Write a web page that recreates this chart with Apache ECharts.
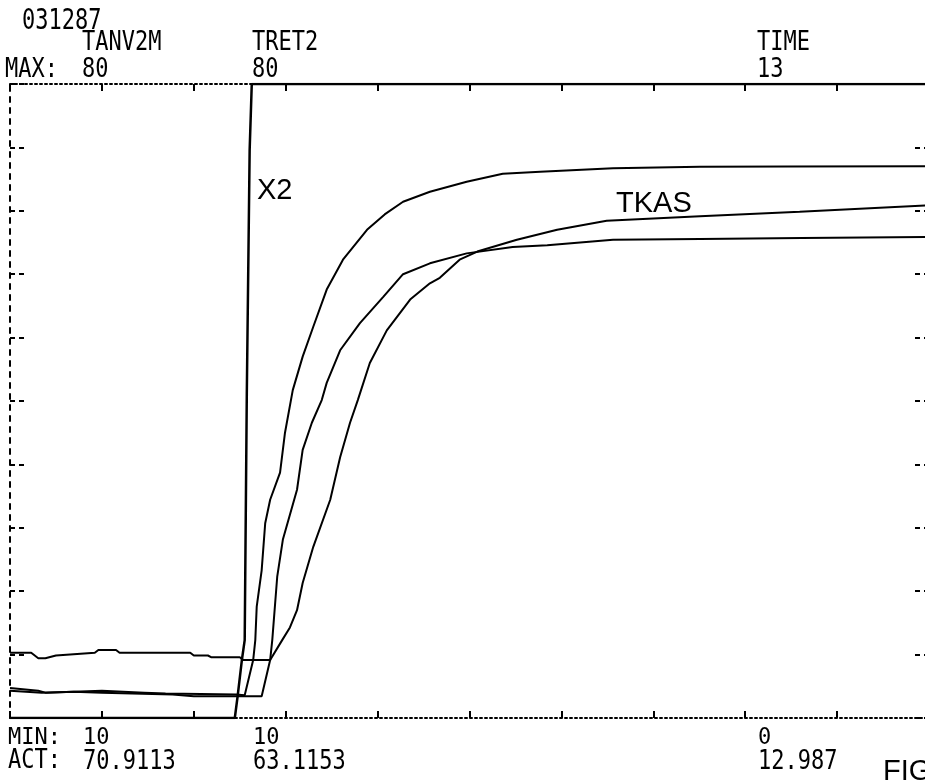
<!DOCTYPE html>
<html>
<head>
<meta charset="utf-8">
<script src="https://cdn.jsdelivr.net/npm/echarts@6/dist/echarts.min.js"></script>
<style>
  html, body { margin: 0; padding: 0; background: #fff; overflow: hidden; }
  #chart { width: 925px; height: 780px; }
</style>
</head>
<body>
<div id="chart"></div>
<script>
// Recorder channels, time in minutes, values in recorder units
const timeRange = [0, 13];
const valueRange = [10, 80];

const tanv2m = [
  [0, 13.3], [0.4, 13.0], [0.5, 12.8], [0.9, 12.9], [1.3, 13.0], [1.9, 12.8], [2.2, 12.7],
  [3.2, 12.6], [3.32, 12.5], [3.44, 16.4], [3.47, 18.6], [3.49, 22.3], [3.56, 26.3],
  [3.61, 31.5], [3.68, 34.1], [3.82, 37.1], [3.89, 41.5], [4.0, 46.2], [4.14, 49.9],
  [4.29, 53.2], [4.48, 57.3], [4.71, 60.6], [5.05, 63.9], [5.3, 65.6], [5.56, 67.0],
  [5.94, 68.1], [6.46, 69.2], [6.97, 70.1], [7.5, 70.3], [8.53, 70.7], [9.76, 70.85],
  [11.0, 70.9], [12.987, 70.9113]
];

const tret2 = [
  [0, 13.0], [0.45, 12.8], [0.9, 12.9], [1.3, 12.8], [2.3, 12.6], [2.6, 12.4], [3.56, 12.4],
  [3.68, 16.4], [3.71, 18.6], [3.78, 25.6], [3.86, 29.7], [4.06, 35.2], [4.14, 39.6],
  [4.27, 42.6], [4.41, 45.1], [4.48, 47.0], [4.67, 50.6], [4.95, 53.6], [5.28, 56.5],
  [5.56, 59.0], [5.94, 60.2], [6.46, 61.3], [7.11, 62.0], [7.6, 62.2], [8.53, 62.8],
  [9.76, 62.9], [11.2, 63.0], [12.987, 63.1153]
];

const tkas = [
  [0, 17.2], [0.3, 17.2], [0.4, 16.6], [0.5, 16.6], [0.65, 16.9], [1.2, 17.2], [1.25, 17.5],
  [1.5, 17.5], [1.55, 17.2], [2.55, 17.2], [2.6, 16.9], [2.8, 16.9], [2.85, 16.7],
  [3.25, 16.7], [3.3, 16.4], [3.68, 16.4], [3.85, 18.6], [3.96, 20.0], [4.06, 21.9],
  [4.14, 24.9], [4.29, 28.9], [4.53, 34.1], [4.67, 38.8], [4.81, 42.6], [4.92, 45.1],
  [5.09, 49.2], [5.33, 52.8], [5.66, 56.2], [5.94, 58.0], [6.08, 58.6], [6.36, 60.6],
  [6.61, 61.5], [7.17, 62.8], [7.74, 63.9], [8.44, 64.9], [9.76, 65.4], [11.17, 65.9],
  [12.987, 66.6]
];

const x2 = [
  [0, 10], [3.18, 10], [3.22, 12.4], [3.28, 16.4], [3.32, 18.6], [3.35, 46],
  [3.39, 72.7], [3.42, 80], [12.987, 80]
];

// Header / footer text of the recorder printout
const plotDate = '031287';
const columnNames = ['TANV2M', 'TRET2', 'TIME'];
const maxLabels = ['80', '80', '13'];
const minLabels = ['10', '10', '0'];
const actLabels = ['70.9113', '63.1153', '12.987'];
const rowTitles = ['MAX:', 'MIN:', 'ACT:'];
const curveNotes = ['X2', 'TKAS'];
const figNote = 'FIG';

const frameDivisions = 10;

const chart = echarts.init(document.getElementById('chart'), null, { renderer: 'canvas' });

// plot frame runs slightly past the right edge of the sheet
const PLOT = { left: 10, top: 84, width: 919, height: 634, outerBoundsMode: 'none', containLabel: false };
const INK = '#000';
const MONO = '"DejaVu Sans Mono", monospace';
const SANS = '"Liberation Sans", Arial, sans-serif';

function plotterText(str, x, capTop, sy) {
  return {
    type: 'text', x: x, y: capTop - 3, scaleY: sy || 1.18,
    style: { text: str, font: '22px ' + MONO, fill: INK, verticalAlign: 'top', align: 'left' }
  };
}
function noteText(str, x, capTop) {
  return {
    type: 'text', x: x, y: capTop - 6,
    style: { text: str, font: '29px ' + SANS, fill: INK, verticalAlign: 'top', align: 'left' }
  };
}

const colX = [82, 252, 757];
const graphics = [plotterText(plotDate, 22, 10, 1.3)];
columnNames.forEach((t, i) => graphics.push(plotterText(t, colX[i], 33)));
graphics.push(plotterText(rowTitles[0], 5, 60));
maxLabels.forEach((t, i) => graphics.push(plotterText(t, colX[i], 60)));
graphics.push(plotterText(rowTitles[1], 8, 729, 1.05));
minLabels.forEach((t, i) => graphics.push(plotterText(t, colX[i] + 1, 729, 1.05)));
graphics.push(plotterText(rowTitles[2], 8, 751));
actLabels.forEach((t, i) => graphics.push(plotterText(t, colX[i] + 1, 752)));
graphics.push(noteText(curveNotes[0], 257, 182));
graphics.push(noteText(curveNotes[1], 616, 195));
graphics.push(noteText(figNote, 883, 763));

function frameAxis(pos, tickLen, axisType, tickType) {
  return {
    gridIndex: 0, type: 'value', min: 0, max: frameDivisions, interval: 1, position: pos,
    axisLine: { show: true, onZero: false, lineStyle: { color: INK, width: 2, type: axisType } },
    axisTick: { show: true, inside: true, length: tickLen, lineStyle: { color: INK, width: 2, type: tickType || 'solid' } },
    axisLabel: { show: false }, splitLine: { show: false }
  };
}

function curve(name, data, width) {
  return {
    name: name, type: 'line', xAxisIndex: 2, yAxisIndex: 2, data: data,
    showSymbol: false, symbol: 'none', smooth: false, z: 5,
    lineStyle: { color: INK, width: width || 2 }
  };
}

chart.setOption({
  backgroundColor: '#fff',
  animation: false,
  grid: [Object.assign({}, PLOT), Object.assign({}, PLOT)],
  xAxis: [
    frameAxis('bottom', 7, [2, 3]),
    frameAxis('top', 7, [2, 3]),
    {
      gridIndex: 1, type: 'value', min: timeRange[0], max: timeRange[1], show: false,
      axisLine: { show: false }, splitLine: { show: false }
    }
  ],
  yAxis: [
    frameAxis('left', 15, [5, 6], [5, 4]),
    frameAxis('right', 17, [5, 6], [5, 4]),
    {
      gridIndex: 1, type: 'value', min: valueRange[0], max: valueRange[1], show: false,
      axisLine: { show: false }, splitLine: { show: false }
    }
  ],
  graphic: graphics,
  series: [
    curve('X2', x2, 2.5),
    curve('TANV2M', tanv2m),
    curve('TRET2', tret2),
    curve('TKAS', tkas)
  ]
});
</script>
</body>
</html>
